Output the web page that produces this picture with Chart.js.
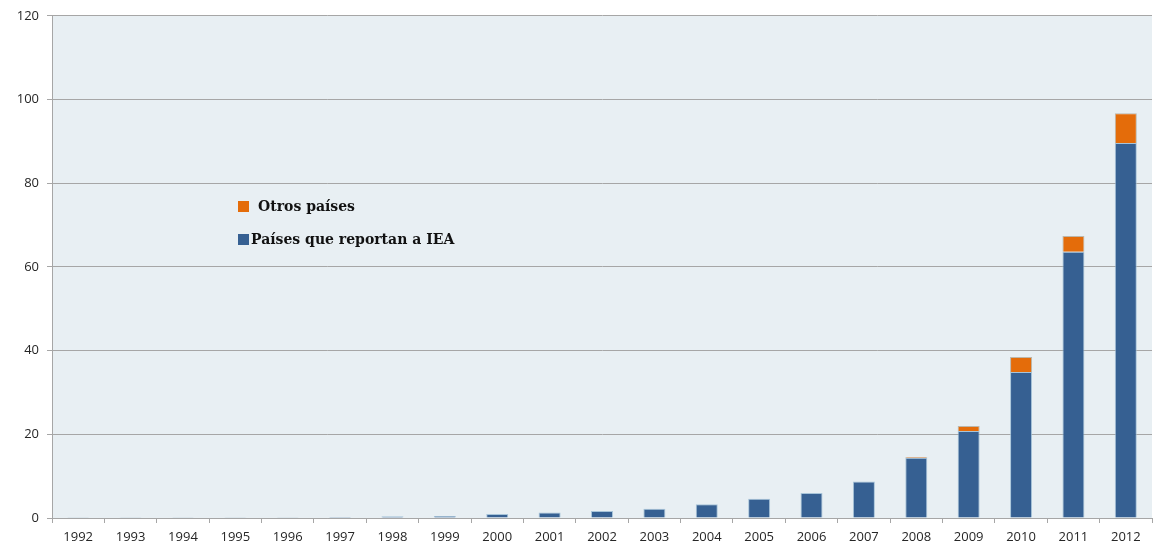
<!DOCTYPE html>
<html>
<head>
<meta charset="utf-8">
<script src="https://cdn.jsdelivr.net/npm/chart.js@4.4.1/dist/chart.umd.min.js"></script>
<style>
  html, body { margin: 0; padding: 0; background: #ffffff; }
  #wrap { position: relative; width: 1160px; height: 547px; }
</style>
</head>
<body>
<div id="wrap"><canvas id="solarChart" width="1160" height="547"></canvas></div>
<script>
"use strict";

var years = ["1992", "1993", "1994", "1995", "1996", "1997", "1998", "1999", "2000", "2001",
             "2002", "2003", "2004", "2005", "2006", "2007", "2008", "2009", "2010", "2011", "2012"];

// Capacidad acumulada, países que reportan a la IEA
var iea   = [0.2, 0.2, 0.2, 0.2, 0.2, 0.25, 0.4, 0.5, 0.95, 1.3,
             1.7, 2.2, 3.3, 4.6, 6.0, 8.7, 14.4, 20.8, 34.9, 63.6, 89.6];

// Capacidad acumulada, otros países
var otros = [0, 0, 0, 0, 0, 0, 0, 0, 0, 0,
             0, 0, 0, 0, 0, 0, 0.2, 1.2, 3.6, 3.8, 7.1];

var yTicks = [0, 20, 40, 60, 80, 100, 120];

var seriesNames  = ["Otros países", "Países que reportan a IEA"];
var seriesColors = ["#E46C0A", "#366092"];

// Fondo del área de trazado
var plotBackground = {
    id: "plotBackground",
    beforeDraw: function (chart)
    {
        var a   = chart.chartArea;
        var ctx = chart.ctx;
        ctx.save();
        ctx.fillStyle = "#E8EFF3";
        ctx.fillRect(a.left, a.top, a.right - a.left, a.bottom - a.top);
        ctx.restore();
    }
};

// Leyenda dentro del gráfico
var innerLegend = {
    id: "innerLegend",
    afterDraw: function (chart)
    {
        var ctx  = chart.ctx;
        var rows = [
            { color: seriesColors[0], text: seriesNames[0], x: 238, tx: 258, y: 207 },
            { color: seriesColors[1], text: seriesNames[1], x: 238, tx: 251, y: 240 }
        ];
        ctx.save();
        ctx.font         = "bold 14px 'DejaVu Serif', 'Liberation Serif', serif";
        ctx.textBaseline = "middle";
        rows.forEach(function (r)
        {
            ctx.fillStyle = r.color;
            ctx.fillRect(r.x, r.y - 6, 11, 11);
            ctx.fillStyle = "#111111";
            ctx.fillText(r.text, r.tx, r.y);
        });
        ctx.restore();
    }
};

new Chart(document.getElementById("solarChart"), {
    type: "bar",
    data: {
        labels: years,
        datasets: [
            {
                label:           seriesNames[1],
                data:            iea,
                backgroundColor: seriesColors[1],
                borderColor:     "rgba(150,185,210,0.8)",
                borderWidth:     1,
                barPercentage:   0.42,
                categoryPercentage: 1.0
            },
            {
                label:           seriesNames[0],
                data:            otros,
                backgroundColor: seriesColors[0],
                borderColor:     "rgba(170,160,140,0.7)",
                borderWidth:     1,
                barPercentage:   0.42,
                categoryPercentage: 1.0
            }
        ]
    },
    options: {
        responsive:          false,
        animation:           false,
        devicePixelRatio:    1,
        layout: {
            padding: { top: 15, right: 8, left: 0, bottom: 0 }
        },
        plugins: {
            legend:  { display: false },
            tooltip: { enabled: false }
        },
        scales: {
            x: {
                stacked: true,
                grid: {
                    offset:          true,
                    drawOnChartArea: false,
                    drawTicks:       true,
                    tickLength:      5,
                    color:           "#A6A6A6"
                },
                border: { color: "#A6A6A6" },
                ticks: {
                    color:       "#262626",
                    font:        { family: "'Open Sans', 'Liberation Sans', sans-serif", size: 13 },
                    maxRotation: 0,
                    autoSkip:    false,
                    padding:     6
                },
                afterFit: function (scale) { scale.height = 29; }
            },
            y: {
                stacked: true,
                min:     0,
                max:     120,
                afterBuildTicks: function (scale)
                {
                    scale.ticks = yTicks.map(function (v) { return { value: v }; });
                },
                grid: {
                    color:      "#A6A6A6",
                    tickLength: 5
                },
                border: { color: "#A6A6A6" },
                ticks: {
                    color:   "#262626",
                    font:    { family: "'Open Sans', 'Liberation Sans', sans-serif", size: 13 },
                    padding: 8
                },
                afterFit: function (scale) { scale.width = 52; }
            }
        }
    },
    plugins: [plotBackground, innerLegend]
});
</script>
</body>
</html>
